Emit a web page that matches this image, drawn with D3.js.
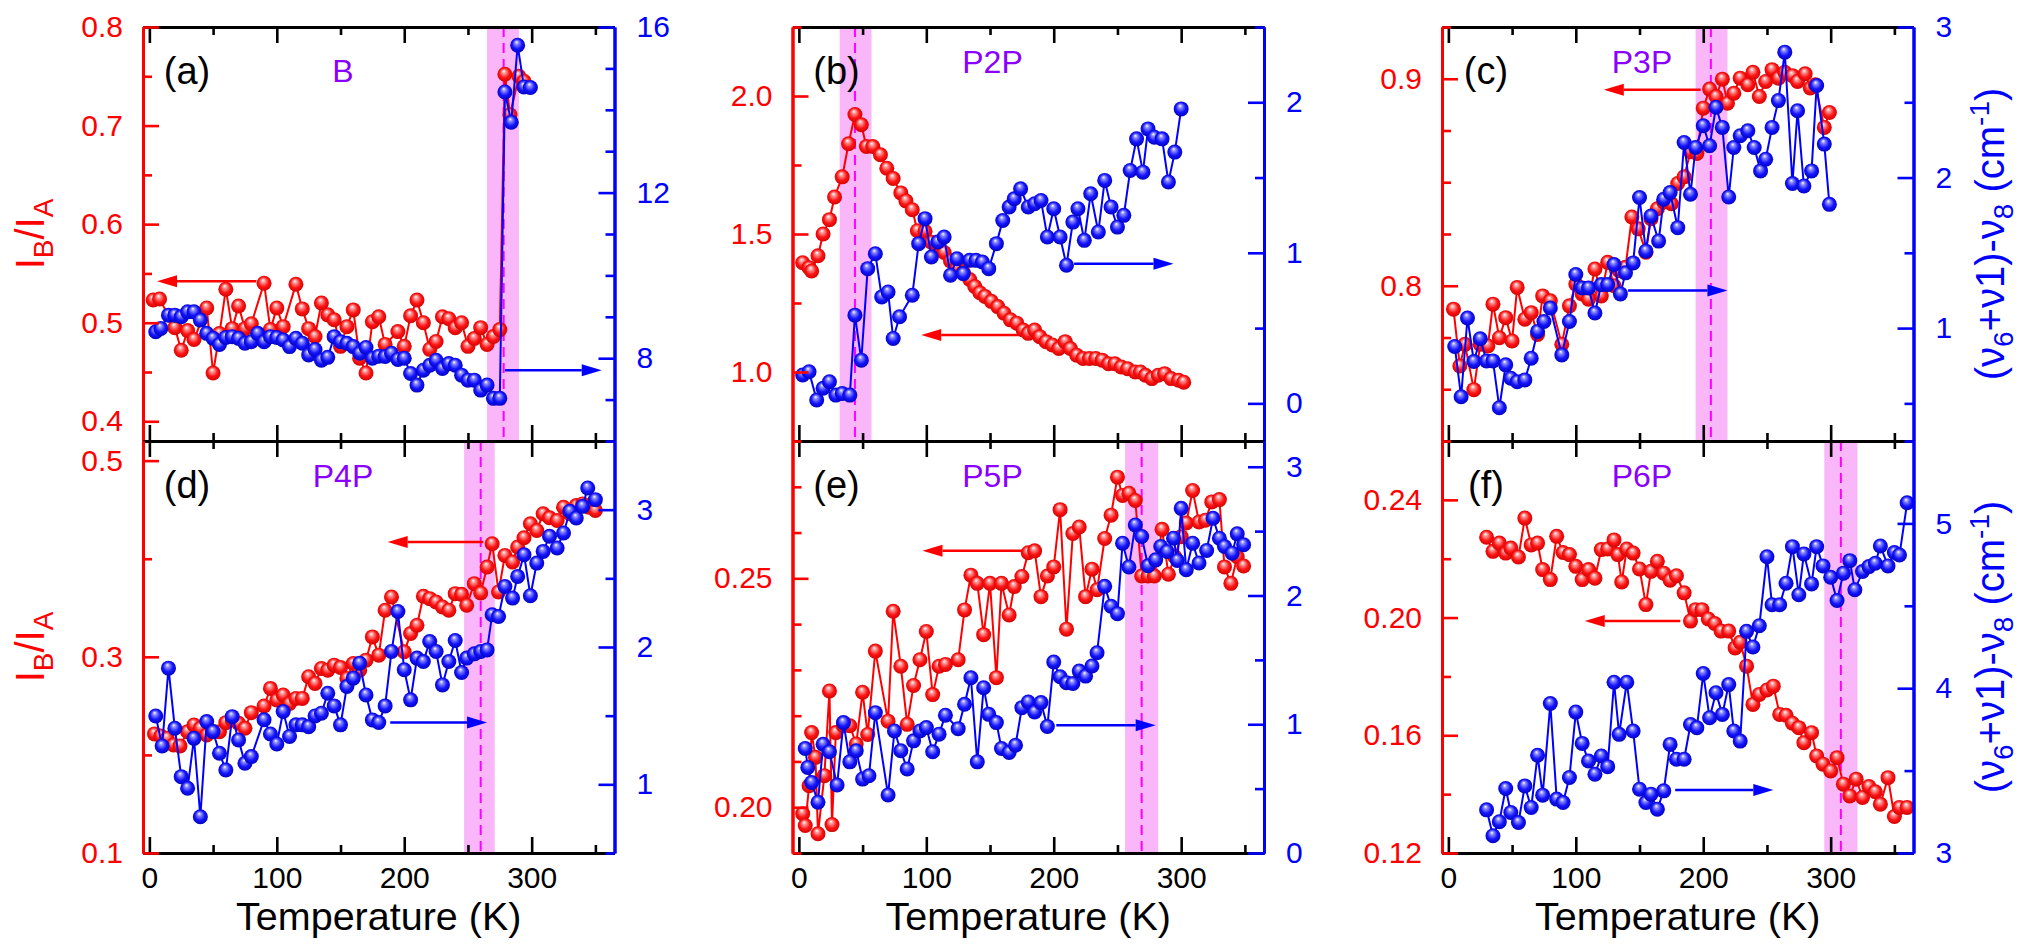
<!DOCTYPE html>
<html>
<head>
<meta charset="utf-8">
<script src="https://cdn.jsdelivr.net/npm/d3@7"></script>
<style>
  body { margin: 0; background: #fff; overflow: hidden; }
  svg { font-family: "Liberation Sans", Arial, sans-serif; }
</style>
</head>
<body>
<svg id="chart" width="2032" height="944"></svg>
<script>
/*global d3*/
// ---- data (T in K) ----
// (a) B
var aRedT = [3, 8, 20, 25, 30, 35, 45, 50, 55, 60, 65, 70, 75, 80, 90, 95, 100, 105, 115, 120, 125, 130, 135, 140, 145, 150, 155, 160, 165, 170, 175, 180, 185, 195, 200, 205, 210, 215, 220, 225, 230, 235, 240, 245, 250, 255, 260, 265, 270, 275, 279, 283, 290, 294];
var aRatio = [.523, .524, .495, .472, .492, .483, .515, .449, .489, .534, .494, .517, .494, .499, .540, .493, .515, .496, .539, .514, .494, .486, .520, .508, .503, .476, .496, .513, .464, .449, .501, .506, .478, .491, .476, .507, .523, .500, .473, .481, .506, .504, .495, .500, .476, .484, .495, .478, .486, .493, .752, .711, .750, .745];
var aBlueT = [5, 9, 15, 20, 25, 30, 35, 40, 45, 50, 55, 60, 65, 70, 75, 80, 85, 90, 95, 100, 105, 110, 115, 120, 125, 130, 135, 140, 145, 150, 155, 160, 165, 170, 175, 180, 185, 190, 195, 200, 205, 210, 215, 220, 225, 230, 235, 240, 245, 250, 255, 260, 265, 270, 275, 279, 284, 289, 294, 299];
var aShift = [8.64, 8.72, 9.04, 9.04, 9.0, 9.12, 9.12, 8.92, 8.60, 8.48, 8.33, 8.50, 8.52, 8.48, 8.36, 8.40, 8.60, 8.40, 8.52, 8.50, 8.44, 8.28, 8.48, 8.36, 8.08, 8.21, 7.95, 8.02, 8.52, 8.40, 8.36, 8.28, 8.12, 8.26, 8.0, 8.05, 8.04, 8.12, 7.97, 8.0, 7.63, 7.35, 7.71, 7.83, 7.95, 7.75, 7.87, 7.83, 7.59, 7.47, 7.47, 7.23, 7.35, 7.03, 7.03, 14.43, 13.7, 15.56, 14.55, 14.54];

// (b) P2P
var bRedT = [3, 8, 10, 15, 19, 24, 28, 34, 39, 44, 49, 53, 58, 64, 69, 74, 80, 84, 89, 93, 99, 104, 109, 114, 119, 124, 129, 134, 138, 142, 146, 151, 156, 161, 166, 171, 176, 180, 185, 189, 194, 199, 204, 209, 213, 218, 223, 228, 233, 238, 243, 248, 253, 258, 264, 268, 272, 277, 282, 287, 292, 298, 302];
var bRatio = [1.396, 1.378, 1.366, 1.421, 1.500, 1.552, 1.634, 1.707, 1.827, 1.933, 1.896, 1.817, 1.817, 1.787, 1.738, 1.701, 1.649, 1.620, 1.588, 1.512, 1.510, 1.470, 1.457, 1.433, 1.402, 1.378, 1.360, 1.335, 1.310, 1.287, 1.274, 1.256, 1.237, 1.213, 1.189, 1.177, 1.152, 1.140, 1.152, 1.128, 1.110, 1.098, 1.085, 1.110, 1.085, 1.061, 1.049, 1.049, 1.049, 1.043, 1.030, 1.030, 1.018, 1.012, 1.000, 1.000, 0.988, 0.976, 0.988, 0.994, 0.976, 0.970, 0.963];
var bBlueT = [3, 8, 14, 19, 24, 29, 34, 40, 44, 49, 54, 60, 65, 70, 74, 79, 89, 94, 99, 104, 109, 114, 119, 124, 129, 134, 139, 144, 149, 155, 160, 165, 169, 174, 180, 185, 190, 195, 200, 205, 210, 215, 219, 224, 229, 235, 240, 245, 250, 255, 260, 265, 270, 274, 279, 285, 290, 295, 300];
var bShift = [0.188, 0.21, 0.022, 0.10, 0.144, 0.055, 0.066, 0.055, 0.586, 0.287, 0.895, 0.994, 0.707, 0.74, 0.431, 0.575, 0.718, 1.061, 1.227, 0.972, 1.072, 1.105, 0.851, 0.961, 0.862, 0.95, 0.95, 0.939, 0.895, 1.061, 1.215, 1.304, 1.359, 1.425, 1.304, 1.326, 1.348, 1.105, 1.293, 1.105, 0.917, 1.204, 1.293, 1.083, 1.392, 1.138, 1.481, 1.304, 1.171, 1.249, 1.547, 1.757, 1.536, 1.823, 1.768, 1.757, 1.47, 1.669, 1.956];

// (c) P3P
var cRedT = [4, 9, 13, 20, 25, 31, 35, 40, 45, 50, 54, 60, 65, 70, 74, 80, 89, 95, 100, 105, 110, 115, 120, 125, 130, 134, 139, 144, 149, 155, 159, 164, 169, 175, 180, 185, 190, 195, 200, 205, 210, 215, 219, 224, 229, 235, 239, 244, 249, 254, 259, 264, 270, 274, 280, 284, 288, 295, 299];
var cRatio = [0.7887, 0.7612, 0.7717, 0.7498, 0.7717, 0.7709, 0.7911, 0.7749, 0.7846, 0.7733, 0.7992, 0.7838, 0.787, 0.7765, 0.7951, 0.7927, 0.7717, 0.7903, 0.8008, 0.796, 0.7935, 0.8081, 0.7951, 0.8113, 0.80, 0.8073, 0.8089, 0.8332, 0.8275, 0.8162, 0.8324, 0.8372, 0.8405, 0.8396, 0.8494, 0.8526, 0.8647, 0.8639, 0.8858, 0.895, 0.8914, 0.8998, 0.8882, 0.893, 0.9003, 0.8971, 0.9031, 0.8914, 0.8987, 0.9044, 0.9003, 0.9031, 0.9015, 0.8987, 0.9024, 0.8955, 0.8971, 0.8765, 0.8837];
var cBlueT = [5, 10, 15, 20, 25, 30, 35, 40, 45, 49, 54, 60, 65, 70, 75, 80, 89, 95, 100, 105, 110, 115, 120, 125, 130, 135, 139, 145, 150, 155, 159, 165, 169, 174, 180, 185, 190, 194, 200, 205, 210, 215, 220, 224, 229, 235, 240, 245, 249, 254, 259, 264, 270, 274, 279, 285, 289, 295, 299];
var cShift = [0.878, 0.544, 1.067, 0.778, 0.929, 0.782, 0.782, 0.471, 0.756, 0.667, 0.644, 0.656, 0.80, 0.978, 1.044, 1.133, 0.822, 1.044, 1.356, 1.267, 1.267, 1.10, 1.289, 1.289, 1.422, 1.227, 1.367, 1.433, 1.867, 1.511, 1.744, 1.578, 1.856, 1.90, 1.667, 2.233, 1.889, 2.20, 2.344, 2.211, 2.467, 2.333, 1.871, 2.20, 2.278, 2.311, 2.20, 2.044, 2.122, 2.333, 2.511, 2.833, 1.96, 2.444, 1.944, 2.044, 2.611, 2.222, 1.822];

// (d) P4P
var dRedT = [4, 9, 14, 19, 24, 30, 35, 40, 45, 50, 55, 60, 65, 70, 75, 80, 90, 95, 100, 105, 110, 115, 120, 125, 130, 135, 140, 145, 150, 155, 160, 165, 170, 175, 180, 185, 190, 200, 205, 210, 215, 220, 225, 230, 235, 240, 245, 249, 255, 260, 265, 269, 274, 279, 285, 289, 294, 299, 304, 309, 314, 320, 325, 330, 335, 340, 345, 350];
var dRatio = [0.2214, 0.2193, 0.217, 0.2102, 0.2092, 0.2237, 0.2305, 0.2271, 0.2203, 0.2237, 0.2237, 0.2329, 0.2356, 0.2322, 0.2271, 0.2431, 0.2498, 0.2678, 0.2559, 0.261, 0.2525, 0.2576, 0.2576, 0.2797, 0.2729, 0.2881, 0.2864, 0.2915, 0.2892, 0.278, 0.2932, 0.2864, 0.2966, 0.3203, 0.3017, 0.3475, 0.361, 0.3051, 0.3237, 0.3322, 0.3617, 0.3593, 0.3559, 0.3508, 0.3475, 0.3644, 0.3637, 0.3525, 0.3746, 0.3651, 0.3915, 0.4153, 0.3661, 0.4034, 0.3966, 0.4119, 0.4214, 0.4356, 0.4288, 0.4458, 0.4417, 0.439, 0.4525, 0.4458, 0.4542, 0.4559, 0.4525, 0.4492];
var dBlueT = [5, 10, 15, 20, 25, 30, 35, 40, 45, 50, 55, 60, 65, 70, 75, 80, 90, 95, 100, 105, 110, 115, 120, 125, 130, 135, 140, 145, 150, 155, 160, 165, 170, 175, 180, 185, 190, 195, 200, 205, 210, 215, 220, 225, 230, 235, 240, 245, 249, 255, 260, 265, 269, 274, 279, 285, 289, 294, 299, 304, 309, 314, 320, 325, 330, 335, 340, 344, 350];
var dShift = [1.498, 1.279, 1.846, 1.408, 1.056, 0.971, 1.335, 0.764, 1.457, 1.384, 1.226, 1.104, 1.493, 1.323, 1.153, 1.202, 1.47, 1.367, 1.294, 1.53, 1.348, 1.433, 1.433, 1.42, 1.498, 1.518, 1.663, 1.571, 1.433, 1.712, 1.773, 1.882, 1.651, 1.469, 1.45, 1.571, 1.967, 2.259, 1.834, 1.615, 1.919, 1.894, 2.04, 1.967, 1.724, 1.894, 2.047, 1.814, 1.919, 1.95, 1.967, 1.979, 2.235, 2.222, 2.441, 2.356, 2.514, 2.672, 2.373, 2.611, 2.696, 2.806, 2.721, 2.83, 2.988, 2.939, 3.024, 3.158, 3.073];

// (e) P5P
var eRedT = [3, 5, 8, 10, 13, 15, 20, 24, 26, 29, 35, 40, 45, 50, 54, 60, 70, 74, 80, 85, 90, 95, 100, 105, 110, 115, 125, 130, 135, 140, 145, 150, 155, 159, 165, 169, 175, 180, 185, 190, 195, 200, 205, 210, 215, 220, 225, 230, 234, 240, 245, 250, 254, 259, 264, 269, 274, 279, 285, 290, 295, 300, 304, 309, 314, 319, 324, 330, 334, 339, 344, 349];
var eRatio = [0.1986, 0.196, 0.2047, 0.2163, 0.2109, 0.1942, 0.2069, 0.2254, 0.1962, 0.2163, 0.2178, 0.2178, 0.2138, 0.2251, 0.2159, 0.2341, 0.2188, 0.2428, 0.2308, 0.2181, 0.2266, 0.2322, 0.2384, 0.2246, 0.2308, 0.2312, 0.2322, 0.2431, 0.2507, 0.2489, 0.2377, 0.2489, 0.2283, 0.2489, 0.242, 0.2482, 0.2504, 0.2556, 0.256, 0.246, 0.2505, 0.2525, 0.265, 0.2389, 0.2598, 0.2612, 0.246, 0.252, 0.2475, 0.2587, 0.2638, 0.2721, 0.2681, 0.2686, 0.267, 0.2505, 0.2505, 0.2505, 0.2607, 0.2509, 0.2547, 0.2591, 0.2621, 0.2692, 0.2623, 0.2627, 0.2667, 0.2672, 0.2525, 0.2489, 0.2547, 0.2527];
var eBlueT = [5, 7, 10, 15, 19, 24, 30, 35, 40, 45, 50, 55, 60, 70, 75, 80, 85, 90, 95, 100, 105, 110, 115, 125, 130, 135, 140, 145, 149, 155, 159, 165, 170, 175, 180, 185, 190, 195, 200, 205, 210, 215, 220, 225, 230, 234, 240, 245, 250, 254, 259, 264, 269, 274, 280, 284, 289, 294, 297, 300, 304, 309, 314, 320, 325, 330, 334, 340, 344, 349];
var eShift = [0.812, 0.665, 0.548, 0.394, 0.845, 0.786, 0.528, 1.013, 0.708, 0.794, 0.574, 0.60, 1.09, 0.45, 0.948, 0.794, 0.652, 0.871, 0.948, 0.974, 0.786, 0.923, 1.07, 0.966, 1.155, 1.361, 0.708, 1.284, 1.077, 1.013, 0.812, 0.781, 0.837, 1.129, 1.173, 1.095, 1.168, 0.982, 1.483, 1.369, 1.323, 1.317, 1.413, 1.374, 1.452, 1.555, 2.071, 1.916, 1.859, 2.406, 2.221, 2.548, 2.458, 2.231, 2.277, 2.381, 2.342, 2.445, 2.272, 2.677, 2.20, 2.406, 2.252, 2.35, 2.60, 2.445, 2.381, 2.329, 2.479, 2.394];

// (f) P6P
var fRedT = [30, 35, 40, 45, 49, 55, 60, 65, 70, 74, 80, 85, 90, 95, 100, 105, 110, 115, 120, 125, 130, 133, 136, 140, 145, 150, 155, 159, 164, 169, 174, 179, 185, 190, 194, 199, 204, 209, 214, 220, 225, 229, 234, 239, 244, 250, 255, 260, 265, 270, 275, 279, 285, 289, 294, 300, 305, 310, 315, 320, 325, 330, 335, 339, 345, 350, 354, 360];
var fRatio = [0.2273, 0.2225, 0.2253, 0.2219, 0.2236, 0.2206, 0.2338, 0.2247, 0.2253, 0.2163, 0.2129, 0.2276, 0.2221, 0.2214, 0.2174, 0.2129, 0.2163, 0.2134, 0.2231, 0.2233, 0.2264, 0.2214, 0.2121, 0.2233, 0.2219, 0.2165, 0.2044, 0.2157, 0.2191, 0.2151, 0.2127, 0.2142, 0.2084, 0.1988, 0.2027, 0.2027, 0.1995, 0.198, 0.1954, 0.1954, 0.1897, 0.1916, 0.1835, 0.1705, 0.1739, 0.1754, 0.1767, 0.1671, 0.1668, 0.1641, 0.1626, 0.1575, 0.1609, 0.153, 0.1502, 0.1479, 0.1524, 0.1434, 0.1394, 0.1451, 0.1389, 0.1426, 0.1408, 0.1366, 0.1456, 0.1324, 0.1355, 0.1355];
var fBlueT = [30, 35, 40, 45, 49, 55, 60, 65, 70, 74, 80, 85, 90, 95, 100, 105, 110, 115, 120, 125, 130, 134, 140, 145, 150, 155, 159, 164, 169, 174, 179, 185, 190, 195, 200, 205, 210, 215, 220, 224, 229, 234, 239, 244, 250, 254, 260, 265, 270, 275, 279, 285, 289, 294, 300, 305, 310, 315, 319, 325, 330, 335, 339, 345, 350, 354, 360];
var fShift = [3.262, 3.105, 3.19, 3.391, 3.246, 3.185, 3.407, 3.276, 3.593, 3.351, 3.907, 3.327, 3.306, 3.458, 3.855, 3.665, 3.558, 3.478, 3.589, 3.524, 4.036, 3.72, 4.036, 3.74, 3.387, 3.306, 3.357, 3.266, 3.377, 3.659, 3.569, 3.569, 3.78, 3.76, 4.089, 3.821, 3.972, 3.841, 4.022, 3.74, 3.679, 4.345, 4.25, 4.379, 4.798, 4.506, 4.506, 4.637, 4.859, 4.567, 4.815, 4.633, 4.859, 4.742, 4.673, 4.532, 4.698, 4.774, 4.597, 4.708, 4.738, 4.758, 4.863, 4.742, 4.823, 4.808, 5.125];

// transition band [from, to, centre] and arrows [T start, T end, value]
var bands = [[265, 290, 278], [32, 57, 44], [194, 219, 206], [247, 271, 260], [256, 282, 269], [295, 321, 308]];
var redArrows = [[84, 6, 0.542], [173, 96, 1.134], [198, 122, 0.8947], [262, 187, 0.417], [177, 97, 0.256], [182, 107, 0.1988]];
var blueArrows = [[279, 355, 7.71], [216, 294, 0.928], [141, 219, 1.249], [189, 265, 1.45], [202, 280, 0.992], [178, 255, 3.383]];

var tags = ["(a)", "(b)", "(c)", "(d)", "(e)", "(f)"];
var names = ["B", "P2P", "P3P", "P4P", "P5P", "P6P"];
var xMajor = [0, 100, 200, 300], xMinor = [50, 150, 250, 350];

// ---- layout ----
var T_MIN = -5, T_MAX = 365;
var colLeft = [143, 792.5, 1442], plotW = 471.5;
var rowTop = [27, 441], rowBottom = [441, 853];

var panels = [
  { redT: aRedT, red: aRatio, blueT: aBlueT, blue: aShift, yL: [0.38, 0.8], yR: [6, 16], lStep: 0.05, lMajor: [0.4, 0.5, 0.6, 0.7, 0.8], lFmt: ".1f", rStep: 1, rMajor: [8, 12, 16] },
  { redT: bRedT, red: bRatio, blueT: bBlueT, blue: bShift, yL: [0.75, 2.25], yR: [-0.25, 2.5], lStep: 0.25, lMajor: [1.0, 1.5, 2.0], lFmt: ".1f", rStep: 0.5, rMajor: [0, 1, 2] },
  { redT: cRedT, red: cRatio, blueT: cBlueT, blue: cShift, yL: [0.725, 0.925], yR: [0.25, 3], lStep: 0.025, lMajor: [0.8, 0.9], lFmt: ".1f", rStep: 0.5, rMajor: [1, 2, 3] },
  { redT: dRedT, red: dRatio, blueT: dBlueT, blue: dShift, yL: [0.1, 0.52], yR: [0.5, 3.5], lStep: 0.1, lMajor: [0.1, 0.3, 0.5], lFmt: ".1f", rStep: 0.5, rMajor: [1, 2, 3] },
  { redT: eRedT, red: eRatio, blueT: eBlueT, blue: eShift, yL: [0.19, 0.28], yR: [0, 3.2], lStep: 0.01, lMajor: [0.20, 0.25], lFmt: ".2f", rStep: 0.5, rMajor: [0, 1, 2, 3] },
  { redT: fRedT, red: fRatio, blueT: fBlueT, blue: fShift, yL: [0.12, 0.26], yR: [3, 5.5], lStep: 0.02, lMajor: [0.12, 0.16, 0.20, 0.24], lFmt: ".2f", rStep: 0.5, rMajor: [3, 4, 5] }
];

var svg = d3.select("#chart");
var defs = svg.append("defs");

function ballGradient(id, light, mid, dark) {
  var gr = defs.append("radialGradient").attr("id", id)
    .attr("cx", "50%").attr("cy", "50%").attr("r", "55%").attr("fx", "42%").attr("fy", "28%");
  gr.append("stop").attr("offset", "0%").attr("stop-color", "#ffffff");
  gr.append("stop").attr("offset", "22%").attr("stop-color", light);
  gr.append("stop").attr("offset", "60%").attr("stop-color", mid);
  gr.append("stop").attr("offset", "100%").attr("stop-color", dark);
}
ballGradient("ballRed", "#ff9a9a", "#ff1414", "#c80000");
ballGradient("ballBlue", "#8c8cff", "#1414ff", "#0000b4");

function stepTicks(dom, step) {
  var lo = Math.ceil(dom[0] / step - 1e-6), hi = Math.floor(dom[1] / step + 1e-6);
  return d3.range(lo, hi + 1).map(function (i) { return +(i * step).toFixed(6); });
}

function styleAxis(sel, color, size) {
  sel.select(".domain").attr("stroke", color).attr("stroke-width", 3);
  sel.selectAll(".tick line").attr("stroke", color).attr("stroke-width", 2.6);
  sel.selectAll(".tick text").attr("fill", color).attr("font-size", size)
    .attr("font-family", "Liberation Sans, Arial, sans-serif");
  sel.attr("font-family", null).attr("font-size", null);
}

function drawArrow(g, x1, x2, y, color) {
  var dir = x2 > x1 ? 1 : -1, head = 20, half = 6;
  g.append("line").attr("x1", x1).attr("x2", x2 - dir * head).attr("y1", y).attr("y2", y)
    .attr("stroke", color).attr("stroke-width", 2.5);
  g.append("path").attr("d", "M" + x2 + "," + y + "L" + (x2 - dir * head) + "," + (y - half) + "L" + (x2 - dir * head) + "," + (y + half) + "Z")
    .attr("fill", color);
}

panels.forEach(function (p, i) {
  var col = i % 3, row = Math.floor(i / 3);
  var left = colLeft[col], right = left + plotW, top = rowTop[row], bottom = rowBottom[row];
  var x = d3.scaleLinear().domain([T_MIN, T_MAX]).range([left, right]);
  var yL = d3.scaleLinear().domain(p.yL).range([bottom, top]);
  var yR = d3.scaleLinear().domain(p.yR).range([bottom, top]);
  var g = svg.append("g").attr("class", "panel");

  // transition band + dashed line
  var band = bands[i];
  g.append("rect").attr("x", x(band[0])).attr("y", top)
    .attr("width", x(band[1]) - x(band[0])).attr("height", bottom - top)
    .attr("fill", "#f9b6f9");
  g.append("line").attr("x1", x(band[2])).attr("x2", x(band[2])).attr("y1", top).attr("y2", bottom)
    .attr("stroke", "#ff00ff").attr("stroke-width", 2).attr("stroke-dasharray", "10,6");

  // arrows
  var ra = redArrows[i], ba = blueArrows[i];
  drawArrow(g, x(ra[0]), x(ra[1]), yL(ra[2]), "#ff0000");
  drawArrow(g, x(ba[0]), x(ba[1]), yR(ba[2]), "#0000ff");

  // red series: I_B / I_A
  var redPts = p.redT.map(function (t, k) { return [t, p.red[k]]; });
  g.append("path").datum(redPts)
    .attr("d", d3.line().x(function (d) { return x(d[0]); }).y(function (d) { return yL(d[1]); }))
    .attr("fill", "none").attr("stroke", "#ff0000").attr("stroke-width", 2);
  g.selectAll(".red").data(redPts).enter().append("circle").attr("class", "red")
    .attr("cx", function (d) { return x(d[0]); }).attr("cy", function (d) { return yL(d[1]); })
    .attr("r", 7.5).attr("fill", "url(#ballRed)");

  // blue series: shift
  var bluePts = p.blueT.map(function (t, k) { return [t, p.blue[k]]; });
  g.append("path").datum(bluePts)
    .attr("d", d3.line().x(function (d) { return x(d[0]); }).y(function (d) { return yR(d[1]); }))
    .attr("fill", "none").attr("stroke", "#0000ff").attr("stroke-width", 2);
  g.selectAll(".blue").data(bluePts).enter().append("circle").attr("class", "blue")
    .attr("cx", function (d) { return x(d[0]); }).attr("cy", function (d) { return yR(d[1]); })
    .attr("r", 7.5).attr("fill", "url(#ballBlue)");

  // x axes (top and bottom, ticks inward)
  var fmt = row === 1 ? d3.format("d") : function () { return ""; };
  [[d3.axisBottom, bottom], [d3.axisTop, top]].forEach(function (ax) {
    var isBottom = ax[1] === bottom;
    var gm = g.append("g").attr("transform", "translate(0," + ax[1] + ")")
      .call(ax[0](x).tickValues(xMinor).tickSize(-8).tickSizeOuter(0).tickFormat(""));
    styleAxis(gm, "#000", 30);
    var gM = g.append("g").attr("transform", "translate(0," + ax[1] + ")")
      .call(ax[0](x).tickValues(xMajor).tickSize(-16).tickSizeOuter(0).tickPadding(14)
        .tickFormat(isBottom ? fmt : function () { return ""; }));
    styleAxis(gM, "#000", 30);
  });

  // left axis (red)
  var lMinor = stepTicks(p.yL, p.lStep).filter(function (v) { return p.lMajor.indexOf(v) < 0; });
  var gl = g.append("g").attr("transform", "translate(" + left + ",0)")
    .call(d3.axisLeft(yL).tickValues(lMinor).tickSize(-9).tickSizeOuter(0).tickFormat(""));
  styleAxis(gl, "#ff0000", 30);
  var gL = g.append("g").attr("transform", "translate(" + left + ",0)")
    .call(d3.axisLeft(yL).tickValues(p.lMajor).tickSize(-16).tickSizeOuter(0).tickPadding(20).tickFormat(d3.format(p.lFmt)));
  styleAxis(gL, "#ff0000", 30);

  // right axis (blue)
  var rMinor = stepTicks(p.yR, p.rStep).filter(function (v) { return p.rMajor.indexOf(v) < 0; });
  var gr = g.append("g").attr("transform", "translate(" + right + ",0)")
    .call(d3.axisRight(yR).tickValues(rMinor).tickSize(-9).tickSizeOuter(0).tickFormat(""));
  styleAxis(gr, "#0000ff", 30);
  var gR = g.append("g").attr("transform", "translate(" + right + ",0)")
    .call(d3.axisRight(yR).tickValues(p.rMajor).tickSize(-16).tickSizeOuter(0).tickPadding(22).tickFormat(d3.format("d")));
  styleAxis(gR, "#0000ff", 30);

  // panel tag and molecule name
  g.append("text").attr("x", left + 44).attr("y", top + 57).attr("text-anchor", "middle")
    .attr("font-size", 38).attr("fill", "#000").text(tags[i]);
  g.append("text").attr("x", left + 200).attr("y", top + (i === 0 ? 55 : 46)).attr("text-anchor", "middle")
    .attr("font-size", 32).attr("fill", "#8a00ff").text(names[i]);

  // axis titles
  if (row === 1) {
    g.append("text").attr("x", (left + right) / 2).attr("y", 930).attr("text-anchor", "middle")
      .attr("font-size", 39.5).attr("fill", "#000").text("Temperature (K)");
  }
  if (col === 0) {
    var tl = g.append("text").attr("transform", "translate(44," + (top + bottom) / 2 + ") rotate(-90)")
      .attr("text-anchor", "middle").attr("font-size", 40).attr("fill", "#ff0000");
    tl.append("tspan").text("I");
    tl.append("tspan").attr("font-size", 28).attr("dy", 9).text("B");
    tl.append("tspan").attr("dy", -9).text("/I");
    tl.append("tspan").attr("font-size", 28).attr("dy", 9).text("A");
  }
  if (col === 2) {
    var tr = g.append("text").attr("transform", "translate(2004," + (top + bottom) / 2 + ") rotate(-90)")
      .attr("text-anchor", "middle").attr("font-size", 40).attr("fill", "#0000ff");
    tr.append("tspan").text("(\u03bd");
    tr.append("tspan").attr("font-size", 28).attr("dy", 9).text("6");
    tr.append("tspan").attr("dy", -9).text("+\u03bd1)-\u03bd");
    tr.append("tspan").attr("font-size", 28).attr("dy", 9).text("8");
    tr.append("tspan").attr("dy", -9).text(" (cm");
    tr.append("tspan").attr("font-size", 28).attr("dy", -15).text("-1");
    tr.append("tspan").attr("dy", 15).text(")");
  }
});
</script>
</body>
</html>
